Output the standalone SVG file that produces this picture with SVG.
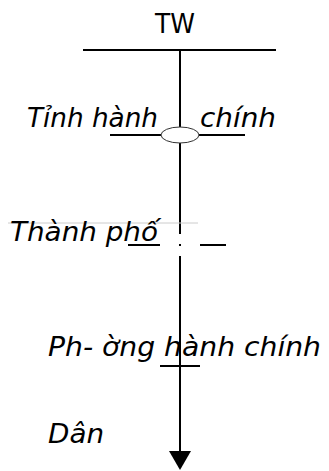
<svg xmlns="http://www.w3.org/2000/svg" width="329" height="471" viewBox="0 0 329 471">
<style>
.t{font-family:"DejaVu Sans","Liberation Sans",sans-serif;font-size:27px;fill:#000;font-style:italic}
.u{font-style:normal}
.ln{stroke:#000;stroke-width:2;fill:none}
</style>
<rect width="329" height="471" fill="#fff"/>
<g id="connectors">
<line class="ln" x1="83" y1="50" x2="276" y2="50"/>
<line class="ln" x1="180" y1="50" x2="180" y2="234"/>
<line class="ln" x1="180" y1="256" x2="180" y2="453"/>
<line x1="8" y1="223" x2="198" y2="223" stroke="#cccccc" stroke-width="1"/>
<line class="ln" x1="110" y1="135" x2="161" y2="135"/>
<line class="ln" x1="199" y1="135" x2="245" y2="135"/>
<ellipse cx="180" cy="135" rx="19" ry="8" fill="#fff" stroke="#333" stroke-width="1"/>
<line class="ln" x1="128" y1="245" x2="160" y2="245"/>
<line class="ln" x1="200" y1="245" x2="226" y2="245"/>
<line class="ln" x1="179" y1="245" x2="181" y2="245" stroke-width="1"/>
<line class="ln" x1="160" y1="366" x2="200" y2="366"/>
<polygon points="169,451 191,451 180,470" fill="#000"/>
</g>
<g id="node-tw"><text class="t u" x="155" y="33" textLength="40" lengthAdjust="spacingAndGlyphs">TW</text></g>
<g id="node-tinh"><text class="t" x="27" y="127" textLength="131" lengthAdjust="spacingAndGlyphs">Tỉnh hành</text><text class="t" x="200" y="127" textLength="76" lengthAdjust="spacingAndGlyphs">chính</text></g>
<g id="node-thanhpho"><text class="t" x="10" y="241" textLength="148" lengthAdjust="spacingAndGlyphs">Thành phố</text></g>
<g id="node-phuong"><text class="t" x="48" y="356" textLength="273" lengthAdjust="spacingAndGlyphs">Ph- ờng hành chính</text></g>
<g id="node-dan"><text class="t" x="48" y="443" textLength="56" lengthAdjust="spacingAndGlyphs">Dân</text></g>
</svg>
